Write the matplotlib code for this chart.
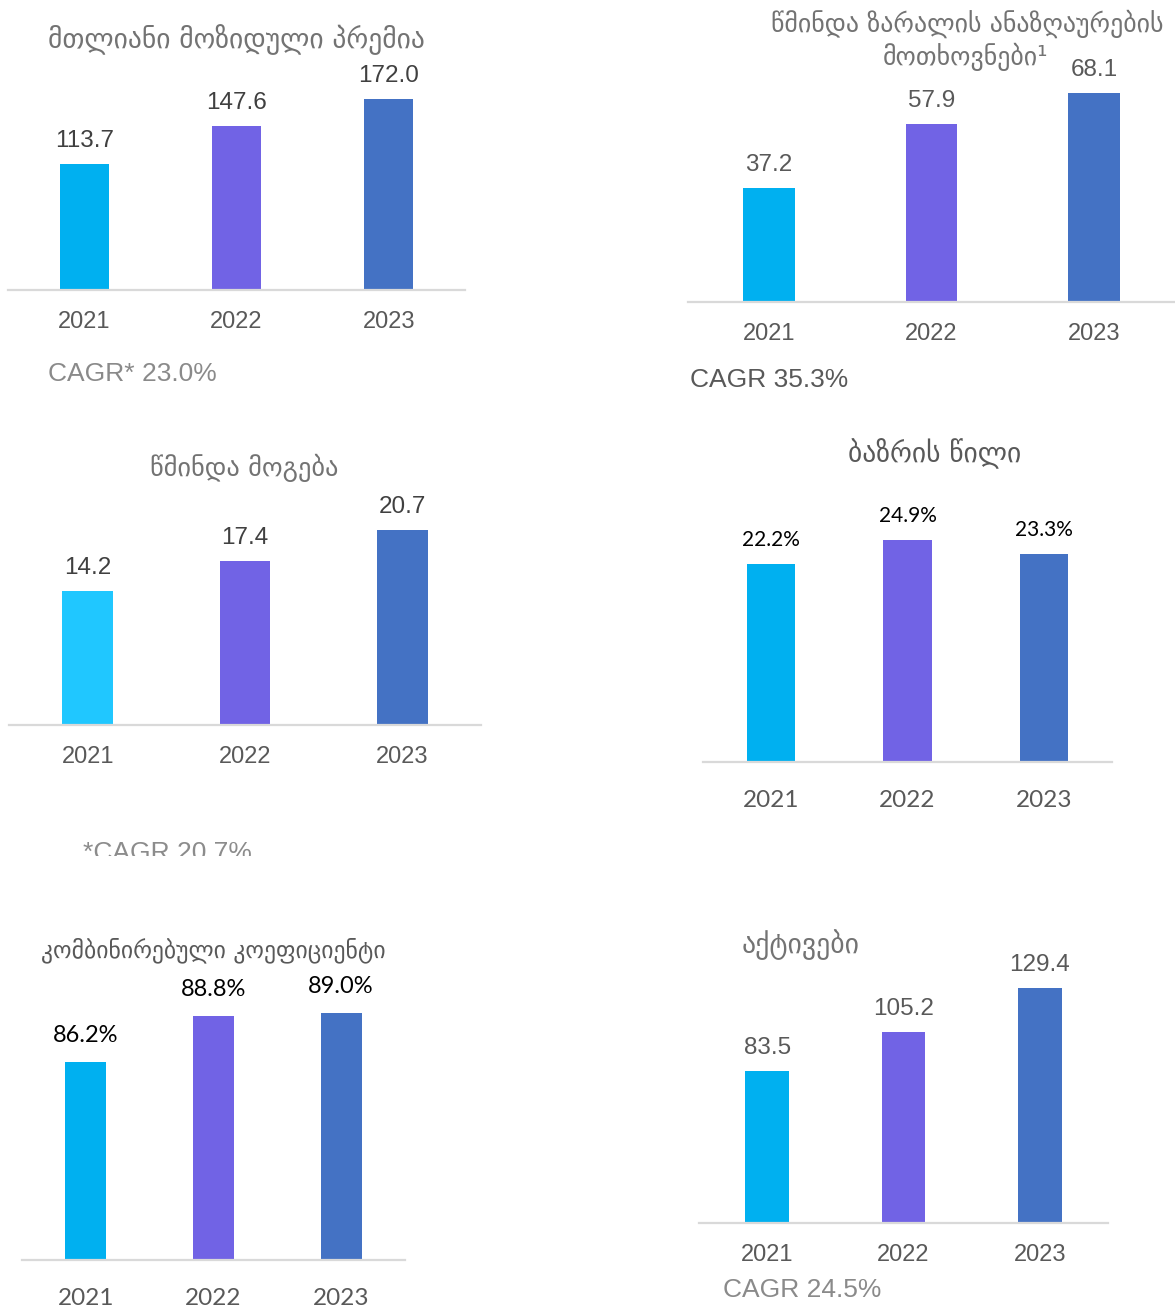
import matplotlib.pyplot as plt
from matplotlib.transforms import Bbox, TransformedBbox

# ---- data ----
years = ['2021', '2022', '2023']
gwp = [113.7, 147.6, 172.0]          # total gross written premium
claims = [37.2, 57.9, 68.1]          # net claims
profit = [14.2, 17.4, 20.7]          # net profit
share = [22.2, 24.9, 23.3]           # market share, %
combined = [86.2, 88.8, 89.0]        # combined ratio, %
assets = [83.5, 105.2, 129.4]        # assets

titles = ['მთლიანი მოზიდული პრემია',
          'წმინდა ზარალის ანაზღაურების\nმოთხოვნები¹',
          'წმინდა მოგება',
          'ბაზრის წილი',
          'კომბინირებული კოეფიციენტი',
          'აქტივები']
cagr = ['CAGR* 23.0%', 'CAGR 35.3%', '*CAGR 20.7%', None, None, 'CAGR 24.5%']

CYAN = '#00B0F0'
CYAN2 = '#20C7FF'
PURPLE = '#7163E5'
BLUE = '#4472C4'

W, H = 1175, 1308
fig = plt.figure(figsize=(W / 100, H / 100), dpi=100)

ARIAL = ['Liberation Sans', 'DejaVu Sans']
CALIBRI = ['Lato', 'DejaVu Sans']
GEO = ['DejaVu Sans']


def fx(x):
    return x / W


def fy(y):
    return 1 - y / H


def panel(left, right, base, top, scale, ylo, vals, colors, labels,
          lab_off, yr_off, num_font, num_size, num_color, yr_font, yr_size, width=0.32):
    # axes box in pixels, scale = pixels per data unit
    ax = fig.add_axes([fx(left), fy(base), (right - left) / W, (base - top) / H])
    ax.bar(range(3), vals, width=width, color=colors, bottom=0)
    ax.set_xlim(-0.5, 2.5)
    ax.set_ylim(ylo, ylo + (base - top) / scale)
    for s in ['top', 'left', 'right']:
        ax.spines[s].set_visible(False)
    ax.spines['bottom'].set_color('#d9d9d9')
    ax.spines['bottom'].set_linewidth(1.6)
    ax.set_xticks([])
    ax.set_yticks([])
    ax.patch.set_alpha(0)
    for i, v in enumerate(vals):
        ax.annotate(labels[i], (i, v), xytext=(0, lab_off * 0.72), textcoords='offset points',
                    ha='center', va='baseline', fontsize=num_size, color=num_color,
                    family=num_font, annotation_clip=False)
        ax.annotate(years[i], (i, ylo), xytext=(0, -yr_off * 0.72), textcoords='offset points',
                    ha='center', va='baseline', fontsize=yr_size, color='#595959',
                    family=yr_font, annotation_clip=False)
    return ax


# panel 1 - gross written premium
panel(8, 465, 290, 60, 1.11, 0, gwp, [CYAN, PURPLE, BLUE],
      ['%.1f' % v for v in gwp], 17, 38, ARIAL, 17.5, '#404040', ARIAL, 17)
fig.text(fx(236), fy(48), titles[0], ha='center', va='baseline', fontsize=19.8,
         color='#737373', family=GEO)
fig.text(fx(48), fy(381), cagr[0], ha='left', va='baseline', fontsize=19,
         color='#8a8a8a', family=ARIAL)

# panel 2 - net claims
panel(688, 1175, 302, 60, 3.07, 0, claims, [CYAN, PURPLE, BLUE],
      ['%.1f' % v for v in claims], 17, 38, ARIAL, 17.5, '#595959', ARIAL, 17)
fig.text(fx(967), fy(32), titles[1].split('\n')[0], ha='center', va='baseline', fontsize=18.6,
         color='#737373', family=GEO)
fig.text(fx(966), fy(65), titles[1].split('\n')[1], ha='center', va='baseline', fontsize=18.6,
         color='#737373', family=GEO)
fig.text(fx(690), fy(387), cagr[1], ha='left', va='baseline', fontsize=19,
         color='#595959', family=ARIAL)

# panel 3 - net profit
panel(9, 481, 725, 490, 9.42, 0, profit, [CYAN2, PURPLE, BLUE],
      ['%.1f' % v for v in profit], 17, 38, ARIAL, 17.5, '#404040', ARIAL, 17)
fig.text(fx(244), fy(476), titles[2], ha='center', va='baseline', fontsize=19,
         color='#737373', family=GEO)
t = fig.text(fx(83), fy(860), cagr[2], ha='left', va='baseline', fontsize=19,
             color='#8c8c8c', family=ARIAL)
t.set_clip_box(TransformedBbox(Bbox([[0, fy(856)], [1, 1]]), fig.transFigure))
t.set_clip_on(True)

# panel 4 - market share
panel(703, 1112, 762, 480, 8.92, 0, share, [CYAN, PURPLE, BLUE],
      ['%.1f%%' % v for v in share], 18, 45, CALIBRI, 15, 'black', CALIBRI, 17.5, width=0.353)
fig.text(fx(935), fy(462), titles[3], ha='center', va='baseline', fontsize=19.8,
         color='#595959', family=GEO)

# panel 5 - combined ratio (axis does not start at zero)
panel(22, 405, 1260, 960, 17.8, 75.1, combined, [CYAN, PURPLE, BLUE],
      ['%.1f%%' % v for v in combined], 20, 45, CALIBRI, 17, 'black', CALIBRI, 17.5)
fig.text(fx(213), fy(957), titles[4], ha='center', va='baseline', fontsize=17,
         color='#595959', family=GEO)

# panel 6 - assets
panel(699, 1108, 1223, 960, 1.817, 0, assets, [CYAN, PURPLE, BLUE],
      ['%.1f' % v for v in assets], 17, 38, ARIAL, 17.5, '#595959', ARIAL, 17)
fig.text(fx(801), fy(953), titles[5], ha='center', va='baseline', fontsize=20,
         color='#737373', family=GEO)
fig.text(fx(723), fy(1297), cagr[5], ha='left', va='baseline', fontsize=19,
         color='#8a8a8a', family=ARIAL)

fig.savefig('out.png', dpi=100)
